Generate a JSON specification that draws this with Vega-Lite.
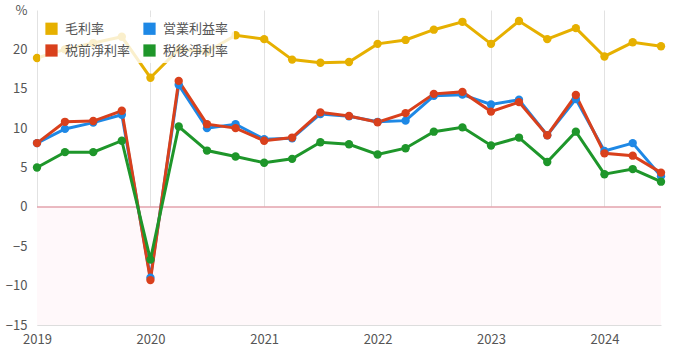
{
  "$schema": "https://vega.github.io/schema/vega-lite/v6.json",
  "width": 624,
  "height": 315,
  "autosize": {"type": "none"},
  "padding": {"left": 37, "top": 10, "right": 17, "bottom": 32},
  "background": "white",
  "config": {
    "view": {"stroke": null},
    "font": "Noto Sans CJK JP",
    "axis": {
      "title": null,
      "ticks": false,
      "labelFontSize": 13,
      "labelColor": "#555",
      "labelFont": "Noto Sans CJK JP",
      "gridColor": "#e2e2e2",
      "labelOverlap": false
    },
    "axisX": {"labelPadding": 8, "domainColor": "#dddddd", "labelFlush": false},
    "axisY": {"labelPadding": 10, "domain": false}
  },
  "layer": [
    {
      "data": {"values": [{}]},
      "mark": {"type": "rect", "color": "#fff8fa"},
      "encoding": {
        "y": {"datum": 0, "type": "quantitative"},
        "y2": {"datum": -15}
      }
    },
    {
      "data": {"values": [{}]},
      "mark": {"type": "rule", "color": "#e3a3ad", "strokeWidth": 1.5},
      "encoding": {"y": {"datum": 0, "type": "quantitative"}}
    },
    {
      "data": {
        "values": [
          {"date": "2019-01-01", "series": "毛利率", "value": 18.9},
          {"date": "2019-04-01", "series": "毛利率", "value": 20.0},
          {"date": "2019-07-01", "series": "毛利率", "value": 20.8},
          {"date": "2019-10-01", "series": "毛利率", "value": 21.6},
          {"date": "2020-01-01", "series": "毛利率", "value": 16.4},
          {"date": "2020-04-01", "series": "毛利率", "value": 20.0},
          {"date": "2020-07-01", "series": "毛利率", "value": 19.7},
          {"date": "2020-10-01", "series": "毛利率", "value": 21.8},
          {"date": "2021-01-01", "series": "毛利率", "value": 21.3},
          {"date": "2021-04-01", "series": "毛利率", "value": 18.7},
          {"date": "2021-07-01", "series": "毛利率", "value": 18.3},
          {"date": "2021-10-01", "series": "毛利率", "value": 18.4},
          {"date": "2022-01-01", "series": "毛利率", "value": 20.7},
          {"date": "2022-04-01", "series": "毛利率", "value": 21.2},
          {"date": "2022-07-01", "series": "毛利率", "value": 22.5},
          {"date": "2022-10-01", "series": "毛利率", "value": 23.5},
          {"date": "2023-01-01", "series": "毛利率", "value": 20.7},
          {"date": "2023-04-01", "series": "毛利率", "value": 23.6},
          {"date": "2023-07-01", "series": "毛利率", "value": 21.3},
          {"date": "2023-10-01", "series": "毛利率", "value": 22.7},
          {"date": "2024-01-01", "series": "毛利率", "value": 19.1},
          {"date": "2024-04-01", "series": "毛利率", "value": 20.9},
          {"date": "2024-07-01", "series": "毛利率", "value": 20.4},
          {"date": "2019-01-01", "series": "営業利益率", "value": 8.1},
          {"date": "2019-04-01", "series": "営業利益率", "value": 9.9},
          {"date": "2019-07-01", "series": "営業利益率", "value": 10.7},
          {"date": "2019-10-01", "series": "営業利益率", "value": 11.7},
          {"date": "2020-01-01", "series": "営業利益率", "value": -9.0},
          {"date": "2020-04-01", "series": "営業利益率", "value": 15.5},
          {"date": "2020-07-01", "series": "営業利益率", "value": 10.0},
          {"date": "2020-10-01", "series": "営業利益率", "value": 10.5},
          {"date": "2021-01-01", "series": "営業利益率", "value": 8.6},
          {"date": "2021-04-01", "series": "営業利益率", "value": 8.7},
          {"date": "2021-07-01", "series": "営業利益率", "value": 11.8},
          {"date": "2021-10-01", "series": "営業利益率", "value": 11.5},
          {"date": "2022-01-01", "series": "営業利益率", "value": 10.8},
          {"date": "2022-04-01", "series": "営業利益率", "value": 10.95},
          {"date": "2022-07-01", "series": "営業利益率", "value": 14.1},
          {"date": "2022-10-01", "series": "営業利益率", "value": 14.25},
          {"date": "2023-01-01", "series": "営業利益率", "value": 13.0},
          {"date": "2023-04-01", "series": "営業利益率", "value": 13.6},
          {"date": "2023-07-01", "series": "営業利益率", "value": 9.1},
          {"date": "2023-10-01", "series": "営業利益率", "value": 13.7},
          {"date": "2024-01-01", "series": "営業利益率", "value": 7.1},
          {"date": "2024-04-01", "series": "営業利益率", "value": 8.1},
          {"date": "2024-07-01", "series": "営業利益率", "value": 3.9},
          {"date": "2019-01-01", "series": "税前淨利率", "value": 8.1},
          {"date": "2019-04-01", "series": "税前淨利率", "value": 10.8},
          {"date": "2019-07-01", "series": "税前淨利率", "value": 10.9},
          {"date": "2019-10-01", "series": "税前淨利率", "value": 12.2},
          {"date": "2020-01-01", "series": "税前淨利率", "value": -9.3},
          {"date": "2020-04-01", "series": "税前淨利率", "value": 16.0},
          {"date": "2020-07-01", "series": "税前淨利率", "value": 10.5},
          {"date": "2020-10-01", "series": "税前淨利率", "value": 10.0},
          {"date": "2021-01-01", "series": "税前淨利率", "value": 8.4},
          {"date": "2021-04-01", "series": "税前淨利率", "value": 8.8},
          {"date": "2021-07-01", "series": "税前淨利率", "value": 12.0},
          {"date": "2021-10-01", "series": "税前淨利率", "value": 11.55},
          {"date": "2022-01-01", "series": "税前淨利率", "value": 10.75},
          {"date": "2022-04-01", "series": "税前淨利率", "value": 11.9},
          {"date": "2022-07-01", "series": "税前淨利率", "value": 14.35},
          {"date": "2022-10-01", "series": "税前淨利率", "value": 14.6},
          {"date": "2023-01-01", "series": "税前淨利率", "value": 12.1},
          {"date": "2023-04-01", "series": "税前淨利率", "value": 13.3},
          {"date": "2023-07-01", "series": "税前淨利率", "value": 9.1},
          {"date": "2023-10-01", "series": "税前淨利率", "value": 14.2},
          {"date": "2024-01-01", "series": "税前淨利率", "value": 6.8},
          {"date": "2024-04-01", "series": "税前淨利率", "value": 6.5},
          {"date": "2024-07-01", "series": "税前淨利率", "value": 4.35},
          {"date": "2019-01-01", "series": "税後淨利率", "value": 5.0},
          {"date": "2019-04-01", "series": "税後淨利率", "value": 6.95},
          {"date": "2019-07-01", "series": "税後淨利率", "value": 6.95},
          {"date": "2019-10-01", "series": "税後淨利率", "value": 8.4},
          {"date": "2020-01-01", "series": "税後淨利率", "value": -6.7},
          {"date": "2020-04-01", "series": "税後淨利率", "value": 10.2},
          {"date": "2020-07-01", "series": "税後淨利率", "value": 7.15},
          {"date": "2020-10-01", "series": "税後淨利率", "value": 6.4},
          {"date": "2021-01-01", "series": "税後淨利率", "value": 5.6},
          {"date": "2021-04-01", "series": "税後淨利率", "value": 6.1},
          {"date": "2021-07-01", "series": "税後淨利率", "value": 8.2},
          {"date": "2021-10-01", "series": "税後淨利率", "value": 7.95},
          {"date": "2022-01-01", "series": "税後淨利率", "value": 6.65},
          {"date": "2022-04-01", "series": "税後淨利率", "value": 7.45},
          {"date": "2022-07-01", "series": "税後淨利率", "value": 9.55},
          {"date": "2022-10-01", "series": "税後淨利率", "value": 10.1},
          {"date": "2023-01-01", "series": "税後淨利率", "value": 7.8},
          {"date": "2023-04-01", "series": "税後淨利率", "value": 8.8},
          {"date": "2023-07-01", "series": "税後淨利率", "value": 5.7},
          {"date": "2023-10-01", "series": "税後淨利率", "value": 9.55},
          {"date": "2024-01-01", "series": "税後淨利率", "value": 4.15},
          {"date": "2024-04-01", "series": "税後淨利率", "value": 4.8},
          {"date": "2024-07-01", "series": "税後淨利率", "value": 3.2}
        ]
      },
      "mark": {
        "type": "line",
        "strokeWidth": 3,
        "point": {"filled": true, "size": 70, "opacity": 1}
      },
      "encoding": {
        "x": {
          "field": "date",
          "type": "temporal",
          "scale": {
            "type": "utc",
            "domain": [
              {"year": 2019, "month": 1, "date": 1, "utc": true},
              {"year": 2024, "month": 7, "date": 1, "utc": true}
            ]
          },
          "axis": {
            "format": "%Y",
            "tickCount": 20,
            "values": [
              {"year": 2019, "month": 1, "date": 1, "utc": true},
              {"year": 2020, "month": 1, "date": 1, "utc": true},
              {"year": 2021, "month": 1, "date": 1, "utc": true},
              {"year": 2022, "month": 1, "date": 1, "utc": true},
              {"year": 2023, "month": 1, "date": 1, "utc": true},
              {"year": 2024, "month": 1, "date": 1, "utc": true}
            ]
          }
        },
        "y": {
          "field": "value",
          "type": "quantitative",
          "scale": {"domain": [-15, 25], "nice": false},
          "axis": {
            "values": [-15, -10, -5, 0, 5, 10, 15, 20, 25],
            "tickCount": 20,
            "labelExpr": "datum.value == 25 ? '%' : datum.label"
          }
        },
        "color": {
          "field": "series",
          "type": "nominal",
          "sort": null,
          "scale": {
            "domain": ["毛利率", "営業利益率", "税前淨利率", "税後淨利率"],
            "range": ["#e6b000", "#1e88e5", "#d9401c", "#1e962a"]
          },
          "legend": {
            "title": null,
            "orient": "none",
            "legendX": 3,
            "legendY": 7,
            "columns": 2,
            "direction": "horizontal",
            "columnPadding": 12,
            "rowPadding": 8,
            "padding": 5,
            "fillColor": "rgba(255,255,255,0.8)",
            "symbolType": "square",
            "symbolSize": 150,
            "symbolStrokeWidth": 0,
            "symbolOpacity": 1,
            "labelFontSize": 13,
            "labelColor": "#555",
            "labelFont": "Noto Sans CJK JP",
            "labelOffset": 7
          }
        }
      }
    }
  ]
}
